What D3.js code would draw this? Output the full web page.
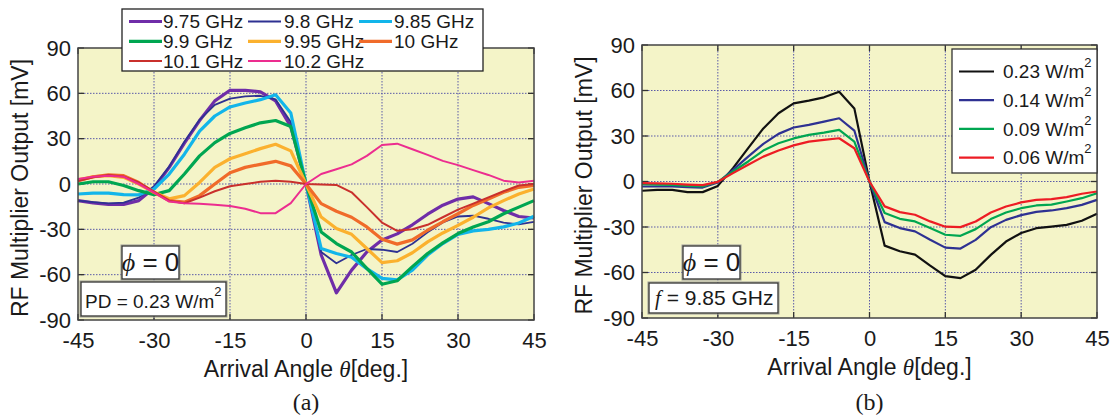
<!DOCTYPE html>
<html>
<head>
<meta charset="utf-8">
<script src="https://cdn.jsdelivr.net/npm/d3@7"></script>
<style>
  body { margin: 0; background: #fff; }
  svg text { font-family: "Liberation Sans", Arial, sans-serif; fill: #1a1a1a; }
  .serif { font-family: "Liberation Serif", "Times New Roman", serif; font-style: italic; }
  .caption { font-family: "Liberation Serif", "Times New Roman", serif; }
</style>
</head>
<body>
<div id="chart-area"></div>
<script>
/*
*    two panels: RF multiplier output vs arrival angle
*/

/* Data */

const angles = [-45, -42, -39, -36, -33, -30, -27, -24, -21, -18, -15, -12, -9, -6, -3, 0,
                3, 6, 9, 12, 15, 18, 21, 24, 27, 30, 33, 36, 39, 42, 45];
const xTicks = [-45, -30, -15, 0, 15, 30, 45];
const yTicks = [-90, -60, -30, 0, 30, 60, 90];

// panel (a): frequency sweep, PD = 0.23 W/m2
const freqLabels = ["9.75 GHz", "9.8 GHz", "9.85 GHz", "9.9 GHz", "9.95 GHz", "10 GHz", "10.1 GHz", "10.2 GHz"];
const f975 = [-11, -12.5, -13.5, -13.5, -11, -2.6, 11, 27, 42, 55, 62, 62, 61, 55, 38, 0,
              -47, -72, -57, -45, -37, -33, -27, -20, -14, -10, -8.5, -13, -17.5, -21.5, -22.5];
const f980 = [-11, -12, -12.8, -12.3, -9, -1.5, 11.5, 28, 42.5, 52.4, 56.5, 58, 58.4, 56, 41, 0,
              -45, -52.5, -47, -43, -43.5, -45, -39.5, -32, -25.5, -21.5, -21, -23, -25.5, -26.7, -25];
const f985 = [-6.6, -6, -6, -7, -7.2, -3.3, 6.6, 19.7, 35, 45, 51, 53.6, 55.8, 59, 47, 0,
              -42.7, -46, -48.5, -56, -62.4, -63.5, -57, -47, -39.4, -33.3, -31, -30, -28.4, -25.8, -21.4];
const f990 = [0, 1.5, 1.5, -1, -4.4, -7, -4.4, 6.6, 18.6, 27.4, 33.5, 37.2, 40.5, 42, 38, 0,
              -31.7, -39.4, -45, -55.8, -66.3, -64, -54.7, -46, -39, -32.8, -28.4, -25, -19.7, -15.3, -11];
const f995 = [2.8, 4.8, 5.5, 4.4, 0, -5.5, -9.8, -7.7, 1, 11, 16.7, 20, 23.4, 26.3, 21.9, 0,
              -21.9, -29.5, -33.3, -42.7, -52, -50.8, -45.5, -38.3, -32.4, -27.4, -22, -15.8, -11, -6.6, -3.3];
const f1000 = [2.2, 4.8, 6, 5.5, 1, -5.5, -11, -12, -7.7, 0, 7.5, 11, 13, 15, 12, 0,
               -13, -18, -22, -28.4, -36.5, -39.8, -37, -30.6, -25, -19.7, -14.2, -10, -5.5, -2.2, -1];
const f1010 = [2, 4.5, 6, 5, 1, -5, -11, -12.7, -9, -4.8, -1.5, 0, 1.5, 2.2, 1.5, 0,
               -0.4, -0.6, -5.5, -15.3, -25.5, -31, -30, -27, -22, -17, -13, -8.8, -4.8, -1, 0];
const f1020 = [3.3, 4.8, 5.5, 4.8, 0, -5.5, -11.6, -12.7, -13.1, -13.8, -14.5, -16.4, -19.3, -19.3, -12.7, 0,
               6.6, 9.8, 13, 18.6, 25.8, 26.7, 23, 19.3, 15.3, 12.5, 9.2, 6, 2.2, 1, 2.2];

// panel (b): power density sweep, f = 9.85 GHz
const pdLabels = ["0.23 W/m", "0.14 W/m", "0.09 W/m", "0.06 W/m"];
const pd023 = [-6.1, -5.5, -5.5, -7, -7, -2.9, 8.8, 22, 35, 45, 51.5, 53.3, 55.5, 59.2, 48.2, 0,
               -42.3, -46, -48.2, -55.5, -62.4, -63.7, -58.2, -48.4, -39.6, -34, -30.8, -29.7, -28.6, -25.9, -21.3];
const pd014 = [-3.3, -3.3, -3.3, -3.7, -4, -0.7, 7.7, 16.4, 24.8, 31.4, 35.6, 37.3, 39.5, 41.7, 33.6, 0,
               -26.8, -30.7, -32.9, -38.4, -43.6, -44.2, -38.5, -30.1, -25.3, -22.2, -20, -19.1, -17.6, -15.4, -12.1];
const pd009 = [-1.8, -2, -2.2, -2.9, -3.3, -0.2, 6.6, 13.2, 20.4, 25.2, 28.4, 30.7, 32.2, 34, 26.3, 0,
               -20.8, -24.6, -26.3, -30.7, -35.1, -35.8, -31.4, -24.8, -20.4, -17.6, -15.8, -15.2, -13.2, -11, -7.7];
const pd006 = [-1.1, -1.3, -1.5, -2, -2.4, -0.2, 5.5, 11, 16.4, 20.4, 23.8, 26.3, 27.4, 28.5, 21.9, 0,
               -16.4, -20.2, -21.9, -26.3, -29.8, -30.1, -26.4, -20.4, -16.5, -13.8, -12.1, -11.6, -10.3, -8.1, -6.6];

/* Styles */

const freqColors = ["#6f2da8", "#2e3192", "#12b5ea", "#00a651", "#fbb12e", "#f06b2a", "#c9302c", "#ec2d8f"];
const freqWidths = [3.2, 1.8, 3.2, 3.2, 3.2, 3.2, 2, 2];
const pdColors = ["#111111", "#2e3192", "#00a651", "#ed1c24"];

const WIDTH = 1115, HEIGHT = 417;

const svg = d3.select("#chart-area").append("svg")
    .attr("width", WIDTH)
    .attr("height", HEIGHT);

svg.append("rect").attr("width", WIDTH).attr("height", HEIGHT).attr("fill", "#fff");

function drawPanel(box, series, colors, widths, caption) {
    const x = d3.scaleLinear().domain([-45, 45]).range([box.left, box.right]);
    const y = d3.scaleLinear().domain([-90, 90]).range([box.bottom, box.top]);
    const g = svg.append("g");

    g.append("rect")
        .attr("x", box.left).attr("y", box.top)
        .attr("width", box.right - box.left).attr("height", box.bottom - box.top)
        .attr("fill", "#f4f4c8");

    // dotted grid
    g.selectAll(".gx").data(xTicks.slice(1, -1)).enter().append("line")
        .attr("x1", d => x(d)).attr("x2", d => x(d))
        .attr("y1", box.top).attr("y2", box.bottom)
        .attr("stroke", "#5a5aa8").attr("stroke-width", 1).attr("stroke-dasharray", "1.5,1.5");
    g.selectAll(".gy").data(yTicks.slice(1, -1)).enter().append("line")
        .attr("y1", d => y(d)).attr("y2", d => y(d))
        .attr("x1", box.left).attr("x2", box.right)
        .attr("stroke", "#5a5aa8").attr("stroke-width", 1).attr("stroke-dasharray", "1.5,1.5");

    // inner tick marks on all four sides
    const tl = 6;
    xTicks.forEach(t => {
        g.append("line").attr("x1", x(t)).attr("x2", x(t)).attr("y1", box.bottom).attr("y2", box.bottom - tl)
            .attr("stroke", "#333").attr("stroke-width", 1.3);
        g.append("line").attr("x1", x(t)).attr("x2", x(t)).attr("y1", box.top).attr("y2", box.top + tl)
            .attr("stroke", "#333").attr("stroke-width", 1.3);
    });
    yTicks.forEach(t => {
        g.append("line").attr("y1", y(t)).attr("y2", y(t)).attr("x1", box.left).attr("x2", box.left + tl)
            .attr("stroke", "#333").attr("stroke-width", 1.3);
        g.append("line").attr("y1", y(t)).attr("y2", y(t)).attr("x1", box.right).attr("x2", box.right - tl)
            .attr("stroke", "#333").attr("stroke-width", 1.3);
    });

    // series
    const line = d3.line().x((d, i) => x(angles[i])).y(d => y(d));
    series.forEach((s, i) => {
        g.append("path")
            .attr("d", line(s))
            .attr("fill", "none")
            .attr("stroke", colors[i])
            .attr("stroke-width", widths[i])
            .attr("stroke-linejoin", "round");
    });

    g.append("rect")
        .attr("x", box.left).attr("y", box.top)
        .attr("width", box.right - box.left).attr("height", box.bottom - box.top)
        .attr("fill", "none").attr("stroke", "#444").attr("stroke-width", 1.5);

    // axes labels (plain hyphen for negatives, like the original)
    const fmt = d => String(d);
    const xAxis = d3.axisBottom(x).tickValues(xTicks).tickFormat(fmt).tickSize(0).tickPadding(12);
    const yAxis = d3.axisLeft(y).tickValues(yTicks).tickFormat(fmt).tickSize(0).tickPadding(7);
    const gx = g.append("g").attr("transform", `translate(0,${box.bottom})`).call(xAxis);
    const gy = g.append("g").attr("transform", `translate(${box.left},0)`).call(yAxis);
    [gx, gy].forEach(a => {
        a.select(".domain").remove();
        a.selectAll("text").attr("font-size", 22).attr("fill", "#1a1a1a");
    });

    const cx = (box.left + box.right) / 2;
    const xt = g.append("text").attr("x", cx).attr("y", box.bottom + 57)
        .attr("text-anchor", "middle").attr("font-size", 23);
    xt.append("tspan").text("Arrival Angle ");
    xt.append("tspan").attr("class", "serif").text("θ");
    xt.append("tspan").text("[deg.]");

    g.append("text")
        .attr("transform", `translate(${box.left - 58},${(box.top + box.bottom) / 2 + 4}) rotate(-90)`)
        .attr("text-anchor", "middle").attr("dy", "0.35em").attr("font-size", 23)
        .text("RF Multiplier Output [mV]");

    g.append("text").attr("class", "caption").attr("x", cx).attr("y", 410)
        .attr("text-anchor", "middle").attr("font-size", 24)
        .text(caption);

    return g;
}

function noteBox(g, x0, y0, w, h) {
    g.append("rect").attr("x", x0 - 1).attr("y", y0 - 1).attr("width", w + 2).attr("height", h + 2)
        .attr("fill", "none").attr("stroke", "#999").attr("stroke-width", 1);
    g.append("rect").attr("x", x0).attr("y", y0).attr("width", w).attr("height", h)
        .attr("fill", "#fff").attr("stroke", "#333").attr("stroke-width", 1.3);
}

function phiNote(g, x0, y0) {
    noteBox(g, x0, y0, 57, 33);
    const t = g.append("text").attr("x", x0 + 28.5).attr("y", y0 + 25)
        .attr("text-anchor", "middle").attr("font-size", 26);
    t.append("tspan").attr("class", "serif").text("ϕ");
    t.append("tspan").text(" = 0");
}

/* Panel (a) */

const boxA = { left: 78, right: 534, top: 48, bottom: 320 };
const gA = drawPanel(boxA, [f975, f980, f985, f990, f995, f1000, f1010, f1020], freqColors, freqWidths, "(a)");

phiNote(gA, 122, 246);
noteBox(gA, 81, 282, 145, 34);
const pdText = gA.append("text").attr("x", 85).attr("y", 308).attr("font-size", 19);
pdText.append("tspan").text("PD = 0.23 W/m");
pdText.append("tspan").attr("font-size", 13).attr("dy", -12).text("2");

// legend, three columns
const legA = gA.append("g");
legA.append("rect").attr("x", 122).attr("y", 9).attr("width", 361).attr("height", 62)
    .attr("fill", "#fff").attr("stroke", "#222").attr("stroke-width", 1.3);
const colLine = [129, 248, 359], colText = [163, 284, 394];
freqLabels.forEach((lab, i) => {
    const c = i % 3, r = Math.floor(i / 3);
    const yy = 21.5 + r * 19.8;
    legA.append("line").attr("x1", colLine[c]).attr("x2", colLine[c] + 33)
        .attr("y1", yy).attr("y2", yy)
        .attr("stroke", freqColors[i]).attr("stroke-width", freqWidths[i]);
    legA.append("text").attr("x", colText[c]).attr("y", yy).attr("dy", "0.35em")
        .attr("font-size", 19).text(lab);
});

/* Panel (b) */

const boxB = { left: 642, right: 1097, top: 45, bottom: 318 };
const gB = drawPanel(boxB, [pd023, pd014, pd009, pd006], pdColors, [2.2, 2.2, 2.2, 2.2], "(b)");

phiNote(gB, 683, 246);
noteBox(gB, 649, 283, 129, 30);
const fText = gB.append("text").attr("x", 655).attr("y", 305).attr("font-size", 21);
fText.append("tspan").attr("class", "serif").text("f");
fText.append("tspan").text(" = 9.85 GHz");

const legB = gB.append("g");
legB.append("rect").attr("x", 952).attr("y", 49).attr("width", 145).attr("height", 124)
    .attr("fill", "#fff").attr("stroke", "#333").attr("stroke-width", 1.3);
pdLabels.forEach((lab, i) => {
    const yy = 71.5 + i * 28.7;
    legB.append("line").attr("x1", 959).attr("x2", 994).attr("y1", yy).attr("y2", yy)
        .attr("stroke", pdColors[i]).attr("stroke-width", 2.2);
    const t = legB.append("text").attr("x", 1003).attr("y", yy).attr("dy", "0.35em").attr("font-size", 19);
    t.append("tspan").text(lab);
    t.append("tspan").attr("font-size", 13).attr("dy", -11).text("2");
});
</script>
</body>
</html>
